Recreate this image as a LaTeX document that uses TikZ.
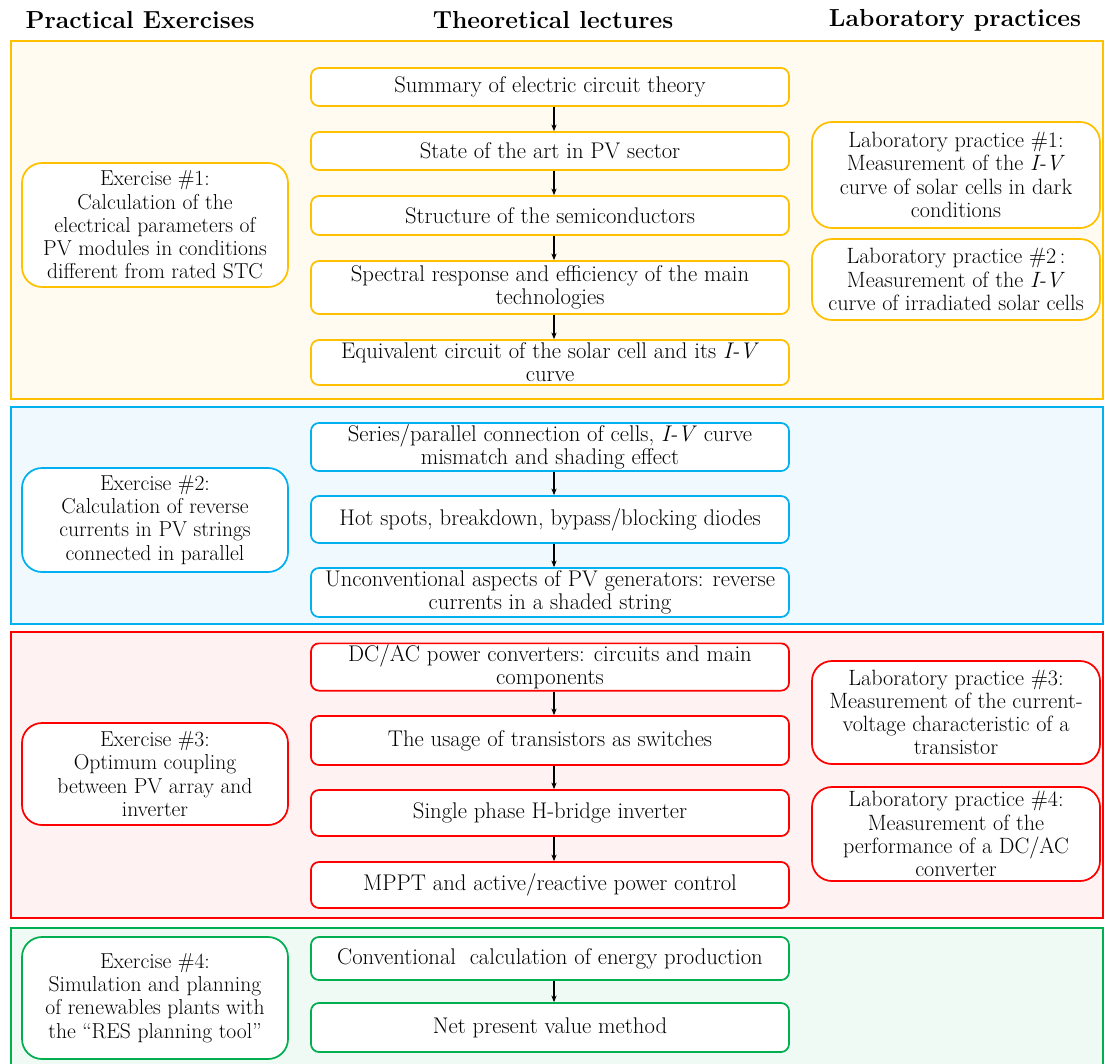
\documentclass[tikz,border=0pt]{standalone}
\usetikzlibrary{arrows.meta}
\definecolor{cy}{HTML}{FFC000}
\definecolor{cb}{HTML}{00B0F0}
\definecolor{cr}{HTML}{FF0000}
\definecolor{cg}{HTML}{00B050}
\begin{document}
\begin{tikzpicture}[x=0.75pt,y=-0.75pt,
  font=\fontsize{17}{17.4}\selectfont,
  band/.style={line width=1.3pt},
  lbox/.style={draw=#1,fill=white,line width=1.3pt,rounded corners=15pt,align=center,minimum width=266*0.75pt,inner sep=1pt,font=\fontsize{16.2}{17.4}\selectfont},
  cbox/.style={draw=#1,fill=white,line width=1.3pt,rounded corners=6pt,align=center,minimum width=478*0.75pt,inner sep=1pt},
  rbox/.style={draw=#1,fill=white,line width=1.3pt,rounded corners=15pt,align=center,minimum width=288*0.75pt,inner sep=1pt,font=\fontsize{16.6}{17.4}\selectfont},
  hdr/.style={font=\fontsize{18.5}{20}\selectfont\bfseries},
  arr/.style={-{Stealth[length=5pt,width=4pt]},line width=0.8pt}]
\useasboundingbox (0,0) rectangle (1105,1063);
\begin{scope}
\clip (0,0) rectangle (1105,1063);
\draw[band,draw=cy,fill=cy!6] (11,41) rectangle (1103,399);
\draw[band,draw=cb,fill=cb!6] (11,407) rectangle (1103,624);
\draw[band,draw=cr,fill=cr!5] (11,632) rectangle (1103,918);
\draw[band,draw=cg,fill=cg!6] (11,928) rectangle (1103,1075);
\end{scope}

\node[hdr] (h1) at (140,20) {Practical Exercises};
\node[hdr] (h2) at (553,20) {Theoretical lectures};
\node[hdr] (h3) at (955,20) {Laboratory practices};

% left
\node[lbox=cy,minimum height=124*0.75pt] (e1) at (155,225) {Exercise \#1:\\Calculation of the\\electrical parameters of\\PV modules in conditions\\different from rated STC};
\node[lbox=cb,minimum height=104*0.75pt] (e2) at (155,520) {Exercise \#2:\\Calculation of reverse\\currents in PV strings\\connected in parallel};
\node[lbox=cr,minimum height=102*0.75pt] (e3) at (155,774) {Exercise \#3:\\Optimum coupling\\between PV array and\\inverter};
\node[lbox=cg,minimum height=122*0.75pt] (e4) at (155,998) {Exercise \#4:\\Simulation and planning\\of renewables plants with\\the ``RES planning tool''};

% center
\node[cbox=cy,minimum height=38*0.75pt] (c1) at (550,87) {Summary of electric circuit theory};
\node[cbox=cy,minimum height=38*0.75pt] (c2) at (550,151) {State of the art in PV sector};
\node[cbox=cy,minimum height=39*0.75pt] (c3) at (550,215.5) {Structure of the semiconductors};
\node[cbox=cy,minimum height=53*0.75pt] (c4) at (550,287.5) {Spectral response and efficiency of the main\\technologies};
\node[cbox=cy,minimum height=45*0.75pt] (c5) at (550,362.5) {Equivalent circuit of the solar cell and its \textit{I-V}\\curve};
\node[cbox=cb,minimum height=48*0.75pt] (c6) at (550,447) {Series/parallel connection of cells, \textit{I-V} curve\\mismatch and shading effect};
\node[cbox=cb,minimum height=47*0.75pt] (c7) at (550,519.5) {Hot spots, breakdown, bypass/blocking diodes};
\node[cbox=cb,minimum height=49*0.75pt] (c8) at (550,592.5) {Unconventional aspects of PV generators: reverse\\currents in a shaded string};
\node[cbox=cr,minimum height=46*0.75pt] (c9) at (550,667) {DC/AC power converters: circuits and main\\components};
\node[cbox=cr,minimum height=49*0.75pt] (c10) at (550,740.5) {The usage of transistors as switches};
\node[cbox=cr,minimum height=46*0.75pt] (c11) at (550,813) {Single phase H-bridge inverter};
\node[cbox=cr,minimum height=46*0.75pt] (c12) at (550,885) {MPPT and active/reactive power control};
\node[cbox=cg,minimum height=43*0.75pt] (c13) at (550,958.5) {Conventional\ \ calculation of energy production};
\node[cbox=cg,minimum height=49*0.75pt] (c14) at (550,1027.5) {Net present value method};

% right
\node[rbox=cy,minimum height=106*0.75pt] (l1) at (956,175) {Laboratory practice \#1:\\Measurement of the \textit{I-V}\\curve of solar cells in dark\\conditions};
\node[rbox=cy,minimum height=81*0.75pt] (l2) at (956,279.5) {Laboratory practice \#2\,:\\Measurement of the \textit{I-V}\\curve of irradiated solar cells};
\node[rbox=cr,minimum height=103*0.75pt] (l3) at (956,712.5) {Laboratory practice \#3:\\Measurement of the current-\\voltage characteristic of a\\transistor};
\node[rbox=cr,minimum height=94*0.75pt] (l4) at (956,834) {Laboratory practice \#4:\\Measurement of the\\performance of a DC/AC\\converter};

% arrows
\foreach \a/\b in {c1/c2,c2/c3,c3/c4,c4/c5,c6/c7,c7/c8,c9/c10,c10/c11,c11/c12,c13/c14}
  \draw[arr] ([xshift=3pt]\a.south) -- ([xshift=3pt]\b.north);
\end{tikzpicture}
\end{document}
